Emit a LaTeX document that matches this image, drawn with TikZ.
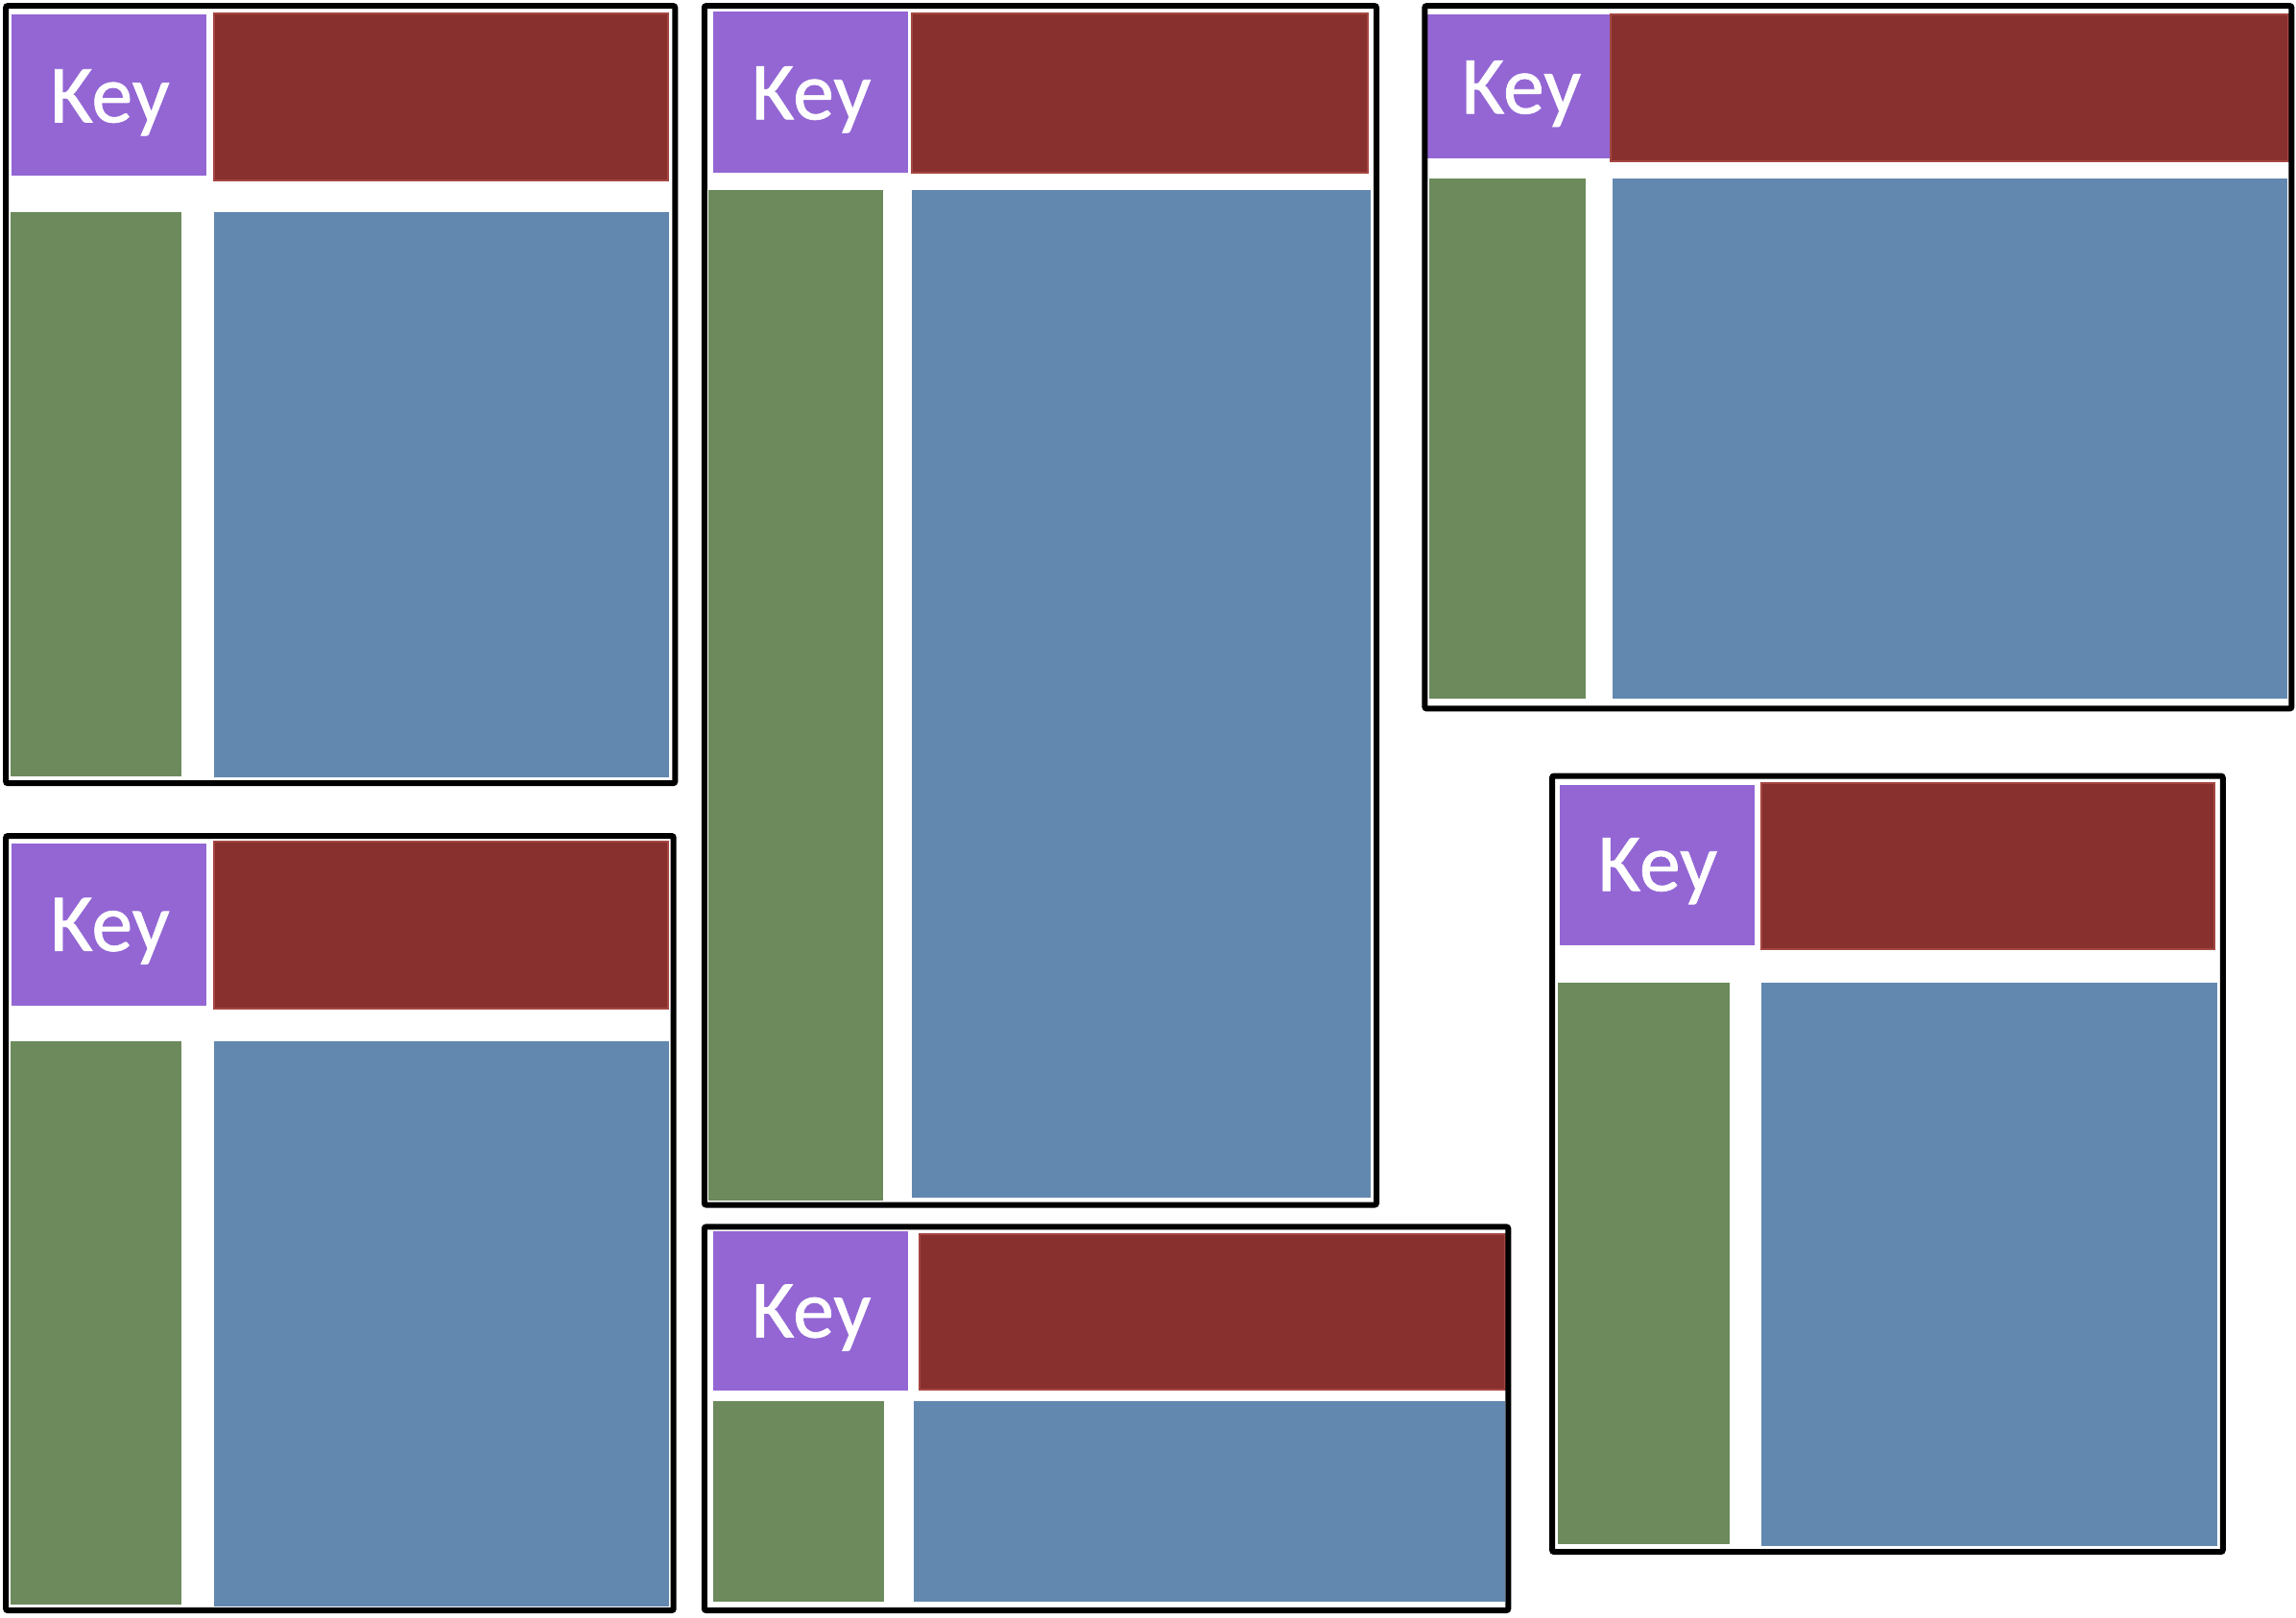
\documentclass[tikz,border=0pt]{standalone}
\usepackage{fontspec}
\newfontfamily\keyfont[FakeBold=0.8]{Carlito}
\definecolor{keypurple}{RGB}{147,102,212}
\definecolor{hdrred}{RGB}{135,48,45}
\definecolor{hdrredline}{RGB}{165,70,66}
\definecolor{sidegreen}{RGB}{108,138,92}
\definecolor{mainblue}{RGB}{99,136,176}
\tikzset{
  frame/.style={draw=black, line width=6pt, rounded corners=2pt},
  keybox/.style={fill=keypurple},
  hdrbox/.style={fill=hdrred, draw=hdrredline, line width=2pt},
  sidebox/.style={fill=sidegreen},
  mainbox/.style={fill=mainblue},
  keytext/.style={text=white, font=\keyfont\fontsize{86}{94}\selectfont, inner sep=0pt}
}
\begin{document}
\begin{tikzpicture}[x=1.5255pt, y=-1.5255pt]
\useasboundingbox (0,0) rectangle (1568,1105.2);
% Panel 1 (top-left)
\fill[keybox] (8,10) rectangle (141,120);
\path[hdrbox] (146,9) rectangle (456,123);
\fill[sidebox] (7,145) rectangle (124,530);
\fill[mainbox] (146,145) rectangle (457,531);
\node[keytext] (k1) at (75,70) {Key};
\draw[frame] (4,4) rectangle (461,535);
% Panel 2 (middle tall)
\fill[keybox] (487,8) rectangle (620,118);
\path[hdrbox] (623,9) rectangle (934,118);
\fill[sidebox] (484,130) rectangle (603,820);
\fill[mainbox] (623,130) rectangle (936,818);
\node[keytext] (k2) at (554,68) {Key};
\draw[frame] (481,4) rectangle (940,823);
% Panel 3 (top right)
\fill[keybox] (975,10) rectangle (1100,108);
\path[hdrbox] (1100,10) rectangle (1563,110);
\fill[sidebox] (976,122) rectangle (1083,477);
\fill[mainbox] (1101,122) rectangle (1562,477);
\node[keytext] (k3) at (1039,64) {Key};
\draw[frame] (973,4) rectangle (1565,484);
% Panel 4 (bottom-left)
\fill[keybox] (8,576) rectangle (141,687);
\path[hdrbox] (146,575) rectangle (456,689);
\fill[sidebox] (7,711) rectangle (124,1096);
\fill[mainbox] (146,711) rectangle (457,1097);
\node[keytext] (k4) at (75,636) {Key};
\draw[frame] (4,571) rectangle (460,1100);
% Panel 5 (bottom-middle)
\fill[keybox] (487,841) rectangle (620,950);
\path[hdrbox] (628,843) rectangle (1028,949);
\fill[sidebox] (487,957) rectangle (604,1094);
\fill[mainbox] (624,957) rectangle (1028,1094);
\node[keytext] (k5) at (554,900) {Key};
\draw[frame] (481,838) rectangle (1030,1100);
% Panel 6 (right lower)
\fill[keybox] (1065,536) rectangle (1198,646);
\path[hdrbox] (1203,535) rectangle (1512,648);
\fill[sidebox] (1064,671) rectangle (1181,1055);
\fill[mainbox] (1203,671) rectangle (1514,1056);
\node[keytext] (k6) at (1132,595) {Key};
\draw[frame] (1060,530) rectangle (1518,1060);
\end{tikzpicture}
\end{document}
